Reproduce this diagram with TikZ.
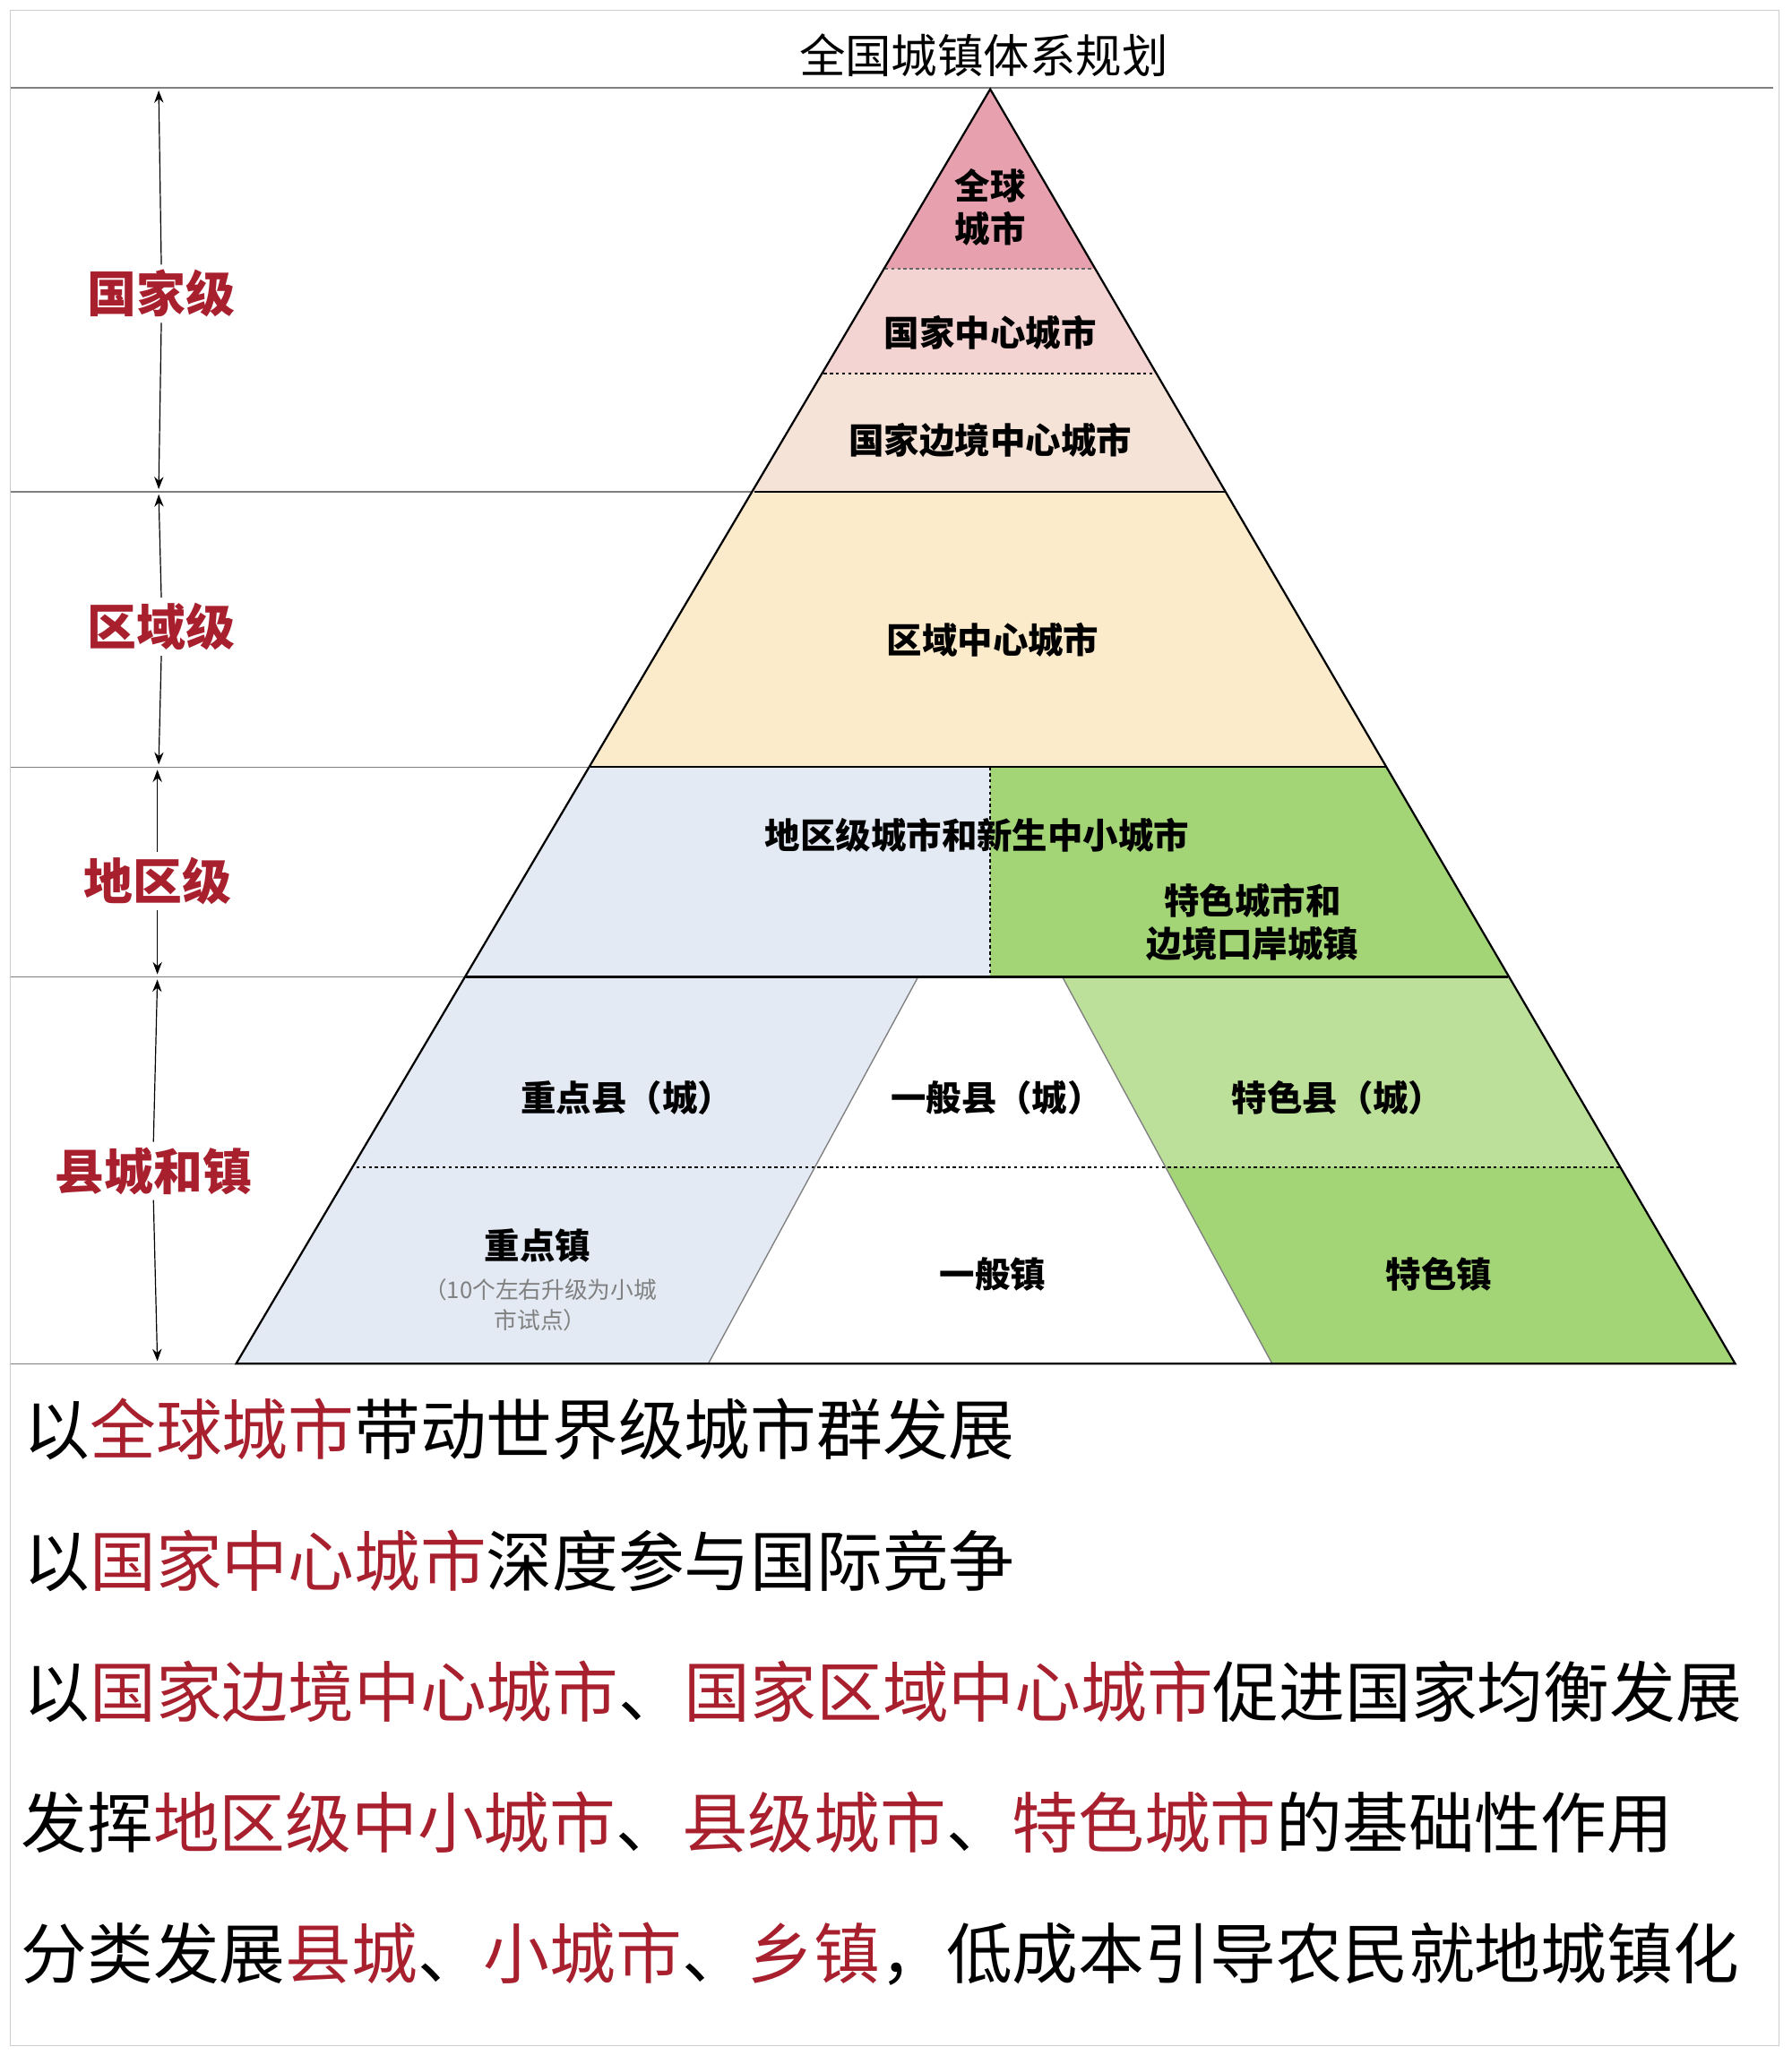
\documentclass[tikz,border=0pt]{standalone}
\usepackage{fontspec}
\setmainfont{Noto Sans CJK SC}
\usetikzlibrary{arrows.meta}
\definecolor{rt}{HTML}{A8202E}
\definecolor{c1}{HTML}{E7A0AE}
\definecolor{c2}{HTML}{F4D3D3}
\definecolor{c3}{HTML}{F6E3D8}
\definecolor{c4}{HTML}{FCEBCB}
\definecolor{c5}{HTML}{E3EAF4}
\definecolor{c6}{HTML}{A3D476}
\definecolor{c7}{HTML}{BCE09A}
\tikzset{lvl/.style={text=rt,font=\fontsize{32}{34}\selectfont\bfseries},
inl/.style={font=\fontsize{23}{28}\selectfont\bfseries,align=center},
btx/.style={anchor=west,font=\fontsize{43}{46}\selectfont\addfontfeature{LetterSpace=0}},
sep/.style={draw=gray,line width=0.8pt},
dl/.style={dash pattern=on 2pt off 2pt,line width=1.2pt},
arr/.style={-{Stealth[length=8pt]},line width=0.7pt}}
\begin{document}
\begin{tikzpicture}[x=0.03cm,y=-0.03cm]
\fill[white] (0,0) rectangle (1366,1574);
\useasboundingbox (0,0) rectangle (1366,1574);
\draw[gray!40] (8,8) rectangle (1356,1560);
% separators
\draw[sep] (8,67) -- (1352,67);
\draw[sep] (8,375) -- (575,375);
\draw[sep] (8,585) -- (450,585);
\draw[sep] (8,745) -- (355,745);
\draw[sep] (8,1040) -- (180,1040);
\node[font=\fontsize{30}{32}\selectfont] (title) at (750,42) {全国城镇体系规划};
% pyramid fills
\begin{scope}
\clip (755,68) -- (1323,1040) -- (180,1040) -- cycle;
\fill[c1] (0,60) rectangle (1366,205);
\fill[c2] (0,205) rectangle (1366,285);
\fill[c3] (0,285) rectangle (1366,375);
\fill[c4] (0,375) rectangle (1366,585);
\fill[c5] (0,585) rectangle (755,745);
\fill[c6] (755,585) rectangle (1366,745);
\fill[c5] (0,745) -- (700,745) -- (540,1040) -- (0,1040) -- cycle;
\fill[white] (700,745) -- (810,745) -- (970,1040) -- (540,1040) -- cycle;
\fill[c7] (810,745) -- (1366,745) -- (1366,890) -- (889,890) -- cycle;
\fill[c6] (889,890) -- (1366,890) -- (1366,1040) -- (970,1040) -- cycle;
\draw[dl,black!60] (0,205) -- (1366,205);
\draw[dl] (0,285) -- (1366,285);
\draw[dl] (755,585) -- (755,745);
\draw[dl] (0,890) -- (1366,890);
\draw[gray,line width=0.8pt] (700,745) -- (540,1040);
\draw[gray,line width=0.8pt] (810,745) -- (970,1040);
\end{scope}
\draw[line width=1.3pt] (755,68) -- (1323,1040) -- (180,1040) -- cycle;
\draw[line width=1.3pt] (575,375) -- (934,375);
\draw[line width=1.3pt] (450,585) -- (1057,585);
\draw[line width=1.3pt] (355,745) -- (1150,745);
% inner labels
\node[inl] (n1) at (755,158) {全球\\城市};
\node[inl] (n2) at (755,254) {国家中心城市};
\node[inl] (n3) at (755,336) {国家边境中心城市};
\node[inl] (n4) at (757,488) {区域中心城市};
\node[inl] (n5) at (745,637) {地区级城市和新生中小城市};
\node[inl] (n6) at (955,703) {特色城市和\\边境口岸城镇};
\node[inl] (n7) at (478,837) {重点县（城）};
\node[inl] (n8) at (760,837) {一般县（城）};
\node[inl] (n9) at (1020,837) {特色县（城）};
\node[inl] (n10) at (410,950) {重点镇};
\node[font=\fontsize{15}{20}\selectfont,align=center,text=gray] (n10s) at (412,995) {（10个左右升级为小城\\市试点）};
\node[inl] (n11) at (757,972) {一般镇};
\node[inl] (n12) at (1097,972) {特色镇};
% level labels
\node[lvl] (l1) at (123,224) {国家级};
\node[lvl] (l2) at (123,478) {区域级};
\node[lvl] (l3) at (120,672) {地区级};
\node[lvl] (l4) at (117,893) {县城和镇};
\coordinate (a0) at (121,69); \coordinate (a1) at (121,373);
\coordinate (b0) at (121,377); \coordinate (b1) at (121,583);
\coordinate (c0) at (120,587); \coordinate (c1p) at (120,743);
\coordinate (d0) at (120,747); \coordinate (d1) at (120,1038);
\draw[arr] (l1.north) -- (a0); \draw[arr] (l1.south) -- (a1);
\draw[arr] (l2.north) -- (b0); \draw[arr] (l2.south) -- (b1);
\draw[arr] (l3.north) -- (c0); \draw[arr] (l3.south) -- (c1p);
\draw[arr] (l4.north) -- (d0); \draw[arr] (l4.south) -- (d1);
% bottom texts
\node[btx] (t1) at (14,1090) {以\textcolor{rt}{全球城市}带动世界级城市群发展};
\node[btx] (t2) at (14,1190) {以\textcolor{rt}{国家中心城市}深度参与国际竞争};
\node[btx] (t3) at (14,1290) {以\textcolor{rt}{国家边境中心城市}、\textcolor{rt}{国家区域中心城市}促进国家均衡发展};
\node[btx] (t4) at (12,1390) {发挥\textcolor{rt}{地区级中小城市}、\textcolor{rt}{县级城市}、\textcolor{rt}{特色城市}的基础性作用};
\node[btx] (t5) at (12,1490) {分类发展\textcolor{rt}{县城}、\textcolor{rt}{小城市}、\textcolor{rt}{乡镇}，低成本引导农民就地城镇化};
\end{tikzpicture}
\end{document}
